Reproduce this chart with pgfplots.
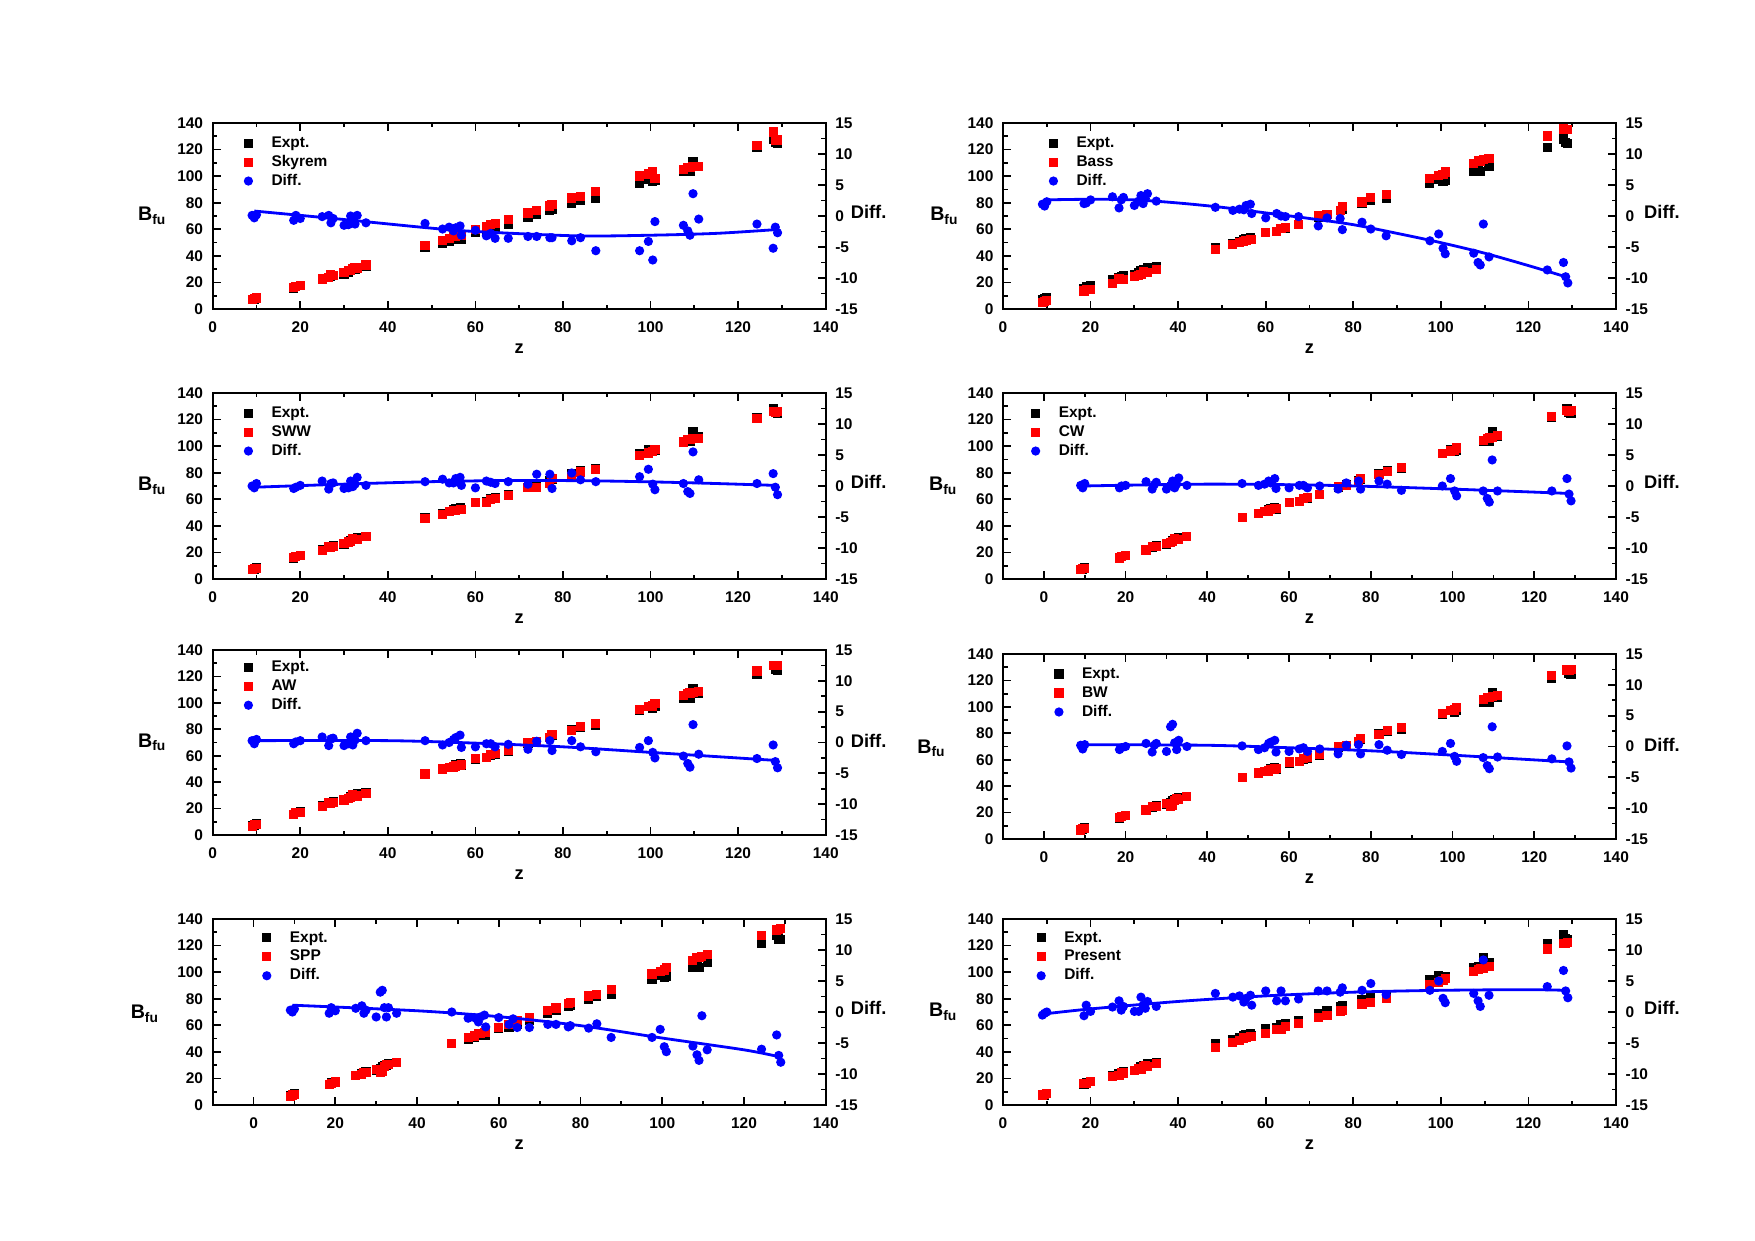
\documentclass[border=0pt]{standalone}
\usepackage{fontspec}
\setmainfont{Liberation Sans}
\usepackage{pgfplots}
\usepackage{pgfplotstable}
\pgfplotsset{compat=1.18}
\newcommand{\tf}{\fontsize{4.4}{5}\selectfont\bfseries}
\newcommand{\lf}{\fontsize{5.2}{6}\selectfont\bfseries}
\newcommand{\bl}{\fontsize{5.6}{6}\selectfont\bfseries B\textsubscript{fu}}

\pgfplotstableread{
z E Sk dSk Ba dBa SW dSW CW dCW AW dAW BW dBW SP dSP Pr dPr
9.0 7.0 6.9 0.1 5.1 1.9 7.0 0.0 6.9 0.1 6.7 0.3 6.8 0.2 6.7 0.3 7.5 -0.5
9.5 7.5 7.8 -0.3 5.9 1.6 7.8 -0.3 7.8 -0.3 7.7 -0.2 7.9 -0.4 7.5 0.0 7.7 -0.2
10.0 8.5 8.3 0.2 6.2 2.3 8.1 0.4 8.1 0.4 8.0 0.5 8.2 0.3 8.0 0.5 8.5 0.0
18.5 15.5 16.2 -0.7 13.5 2.0 15.9 -0.4 15.8 -0.3 15.7 -0.2 16.0 -0.5 15.7 -0.2 16.1 -0.6
19.0 17.0 16.9 0.1 14.9 2.1 17.2 -0.2 17.0 0.0 16.9 0.1 17.2 -0.2 16.3 0.7 15.9 1.1
20.0 17.5 17.9 -0.4 14.9 2.6 17.4 0.1 17.4 0.1 17.2 0.3 17.5 0.0 17.3 0.2 17.4 0.1
25.0 22.5 22.6 -0.1 19.4 3.1 21.7 0.8 21.8 0.7 21.6 0.9 22.0 0.5 21.9 0.6 21.7 0.8
26.5 24.0 23.9 0.1 22.7 1.3 24.5 -0.5 24.5 -0.5 24.5 -0.5 24.9 -0.9 23.0 1.0 22.2 1.8
27.0 24.5 25.6 -1.1 21.9 2.6 24.1 0.4 24.3 0.2 23.9 0.6 24.3 0.2 24.7 -0.2 24.2 0.3
27.5 25.0 25.4 -0.4 22.0 3.0 24.5 0.5 24.4 0.6 24.3 0.7 24.5 0.5 24.7 0.3 24.1 0.9
30.0 26.0 27.5 -1.5 24.3 1.7 26.4 -0.4 26.5 -0.5 26.5 -0.5 26.8 -0.8 26.8 -0.8 25.9 0.1
31.0 27.5 28.9 -1.4 25.1 2.4 27.8 -0.3 27.4 0.1 27.7 -0.2 24.3 3.2 24.3 3.2 27.4 0.1
31.5 29.0 29.0 0.0 25.7 3.3 28.2 0.8 28.2 0.8 28.1 0.9 25.4 3.6 25.5 3.5 26.6 2.4
32.0 30.0 30.7 -0.7 28.0 2.0 30.1 -0.1 30.3 -0.3 30.4 -0.4 29.4 0.6 29.3 0.7 28.9 1.1
32.5 30.0 31.3 -1.3 27.2 2.8 29.7 0.3 29.7 0.3 29.6 0.4 30.5 -0.5 30.8 -0.8 29.4 0.6
33.0 31.0 30.9 0.1 27.4 3.6 29.6 1.4 29.7 1.3 29.5 1.5 30.0 1.0 30.3 0.7 29.3 1.7
35.0 32.0 33.1 -1.1 29.6 2.4 31.9 0.1 31.9 0.1 31.7 0.3 32.0 0.0 32.2 -0.2 31.1 0.9
48.5 46.5 47.7 -1.2 45.1 1.4 45.8 0.7 46.1 0.4 46.2 0.3 46.4 0.1 46.5 0.0 43.5 3.0
52.5 49.5 51.6 -2.1 48.6 0.9 48.4 1.1 49.4 0.1 49.9 -0.4 50.0 -0.5 50.5 -1.0 47.1 2.4
54.0 51.0 52.8 -1.8 49.9 1.1 50.5 0.5 50.7 0.3 51.0 0.0 51.2 -0.2 51.9 -0.9 48.4 2.6
55.0 52.0 54.4 -2.4 51.0 1.0 51.5 0.5 51.2 0.8 51.5 0.5 51.5 0.5 53.6 -1.6 50.4 1.6
55.5 53.0 54.9 -1.9 51.3 1.7 51.8 1.2 52.5 0.5 52.2 0.8 52.3 0.7 53.8 -0.8 50.8 2.2
56.5 54.0 55.6 -1.6 52.1 1.9 52.6 1.4 52.8 1.2 52.8 1.2 53.0 1.0 54.5 -0.5 51.3 2.7
56.8 52.5 55.6 -3.1 52.1 0.4 52.4 0.1 52.9 -0.4 53.3 -0.8 53.4 -0.9 54.9 -2.4 51.4 1.1
60.0 57.5 59.8 -2.3 57.8 -0.3 57.8 -0.3 57.8 -0.3 58.2 -0.7 58.3 -0.8 58.4 -0.9 54.1 3.4
62.5 58.5 61.7 -3.2 58.1 0.4 57.7 0.8 58.4 0.1 58.7 -0.2 58.9 -0.4 60.5 -2.0 56.7 1.8
63.5 60.5 63.3 -2.8 60.5 0.0 59.9 0.6 60.4 0.1 60.7 -0.2 60.7 -0.2 61.6 -1.1 57.1 3.4
64.5 61.0 64.6 -3.6 61.1 -0.1 60.6 0.4 61.3 -0.3 61.7 -0.7 61.8 -0.8 63.5 -2.5 59.2 1.8
67.5 63.5 67.1 -3.6 63.6 -0.1 62.8 0.7 63.5 0.0 63.8 -0.3 63.9 -0.4 66.0 -2.5 61.4 2.1
72.0 69.0 72.3 -3.3 70.6 -1.6 68.7 0.3 69.5 -0.5 70.1 -1.1 70.2 -1.2 71.0 -2.0 65.6 3.4
74.0 71.0 74.3 -3.3 71.3 -0.3 69.1 1.9 70.5 0.5 70.8 0.2 70.8 0.2 73.0 -2.0 67.6 3.4
77.0 74.0 77.5 -3.5 74.4 -0.4 72.1 1.9 73.2 0.8 73.7 0.3 73.7 0.3 76.4 -2.4 70.8 3.2
77.5 75.0 78.5 -3.5 77.2 -2.2 75.4 -0.4 75.5 -0.5 76.3 -1.3 76.2 -1.2 77.2 -2.2 71.1 3.9
82.0 79.5 83.5 -4.0 80.5 -1.0 77.4 2.1 78.7 0.8 79.2 0.3 79.2 0.3 82.1 -2.6 76.0 3.5
84.0 81.5 85.0 -3.5 83.6 -2.1 80.5 1.0 81.2 0.3 82.2 -0.7 82.1 -0.6 83.4 -1.9 76.9 4.6
87.5 83.0 88.6 -5.6 86.2 -3.2 82.3 0.7 83.7 -0.7 84.5 -1.5 84.3 -1.3 87.1 -4.1 80.2 2.8
97.5 94.5 100.1 -5.6 98.5 -4.0 93.0 1.5 94.5 0.0 95.3 -0.8 95.3 -0.8 98.6 -4.1 91.0 3.5
99.5 97.5 101.6 -4.1 100.4 -2.9 94.8 2.7 96.3 1.2 97.2 0.3 97.0 0.5 100.3 -2.8 92.5 5.0
100.5 96.0 103.1 -7.1 101.2 -5.2 95.7 0.3 96.8 -0.8 97.6 -1.6 97.6 -1.6 101.6 -5.6 93.8 2.2
101.0 97.0 97.9 -0.9 103.1 -6.1 97.6 -0.6 98.6 -1.6 99.5 -2.5 99.4 -2.4 103.4 -6.4 95.5 1.5
107.5 103.5 105.0 -1.5 109.5 -6.0 103.1 0.4 104.3 -0.8 105.7 -2.2 105.3 -1.8 109.0 -5.5 100.5 3.0
108.5 104.0 106.4 -2.4 111.5 -7.5 104.9 -0.9 106.0 -2.0 107.4 -3.4 107.1 -3.1 110.9 -6.9 102.2 1.8
109.0 103.5 106.6 -3.1 111.4 -7.9 104.7 -1.2 106.1 -2.6 107.5 -4.0 107.1 -3.6 111.3 -7.8 102.6 0.9
109.7 111.0 107.4 3.6 112.3 -1.3 105.5 5.5 106.8 4.2 108.1 2.9 107.8 3.2 111.6 -0.6 102.6 8.4
111.0 107.0 107.5 -0.5 113.6 -6.6 106.0 1.0 107.8 -0.8 108.9 -1.9 108.7 -1.7 113.1 -6.1 104.3 2.7
124.3 121.5 122.8 -1.3 130.2 -8.7 121.1 0.4 122.3 -0.8 124.1 -2.6 123.5 -2.0 127.5 -6.0 117.4 4.1
128.0 128.0 133.2 -5.2 135.5 -7.5 126.0 2.0 126.8 1.2 128.4 -0.4 127.9 0.1 131.7 -3.7 121.3 6.7
128.5 125.0 126.8 -1.8 134.8 -9.8 125.2 -0.2 126.3 -1.3 128.1 -3.1 127.5 -2.5 132.0 -7.0 121.6 3.4
129.0 124.5 127.2 -2.7 135.3 -10.8 125.9 -1.4 126.9 -2.4 128.6 -4.1 128.0 -3.5 132.6 -8.1 122.2 2.3
}\data

\pgfplotsset{
  legimg/.style={legend image code/.code={\path[draw=none, fill=none] (0cm,0cm) -- (0.42cm,0cm); \draw[##1, /tikz/only marks] plot coordinates {(0.21cm,0cm)};}},
  ex/.style={only marks, mark=square*, mark size=1.1pt, black, legimg},
  md/.style={only marks, mark=square*, mark size=1.1pt, red, legimg},
  df/.style={only marks, mark=*, mark size=1.1pt, blue, legimg},
  fitl/.style={blue, line width=0.8pt, smooth, no markers},
  common/.style={scale only axis, width=6.13cm, height=1.86cm, anchor=south west,
    xmin=0, xmax=140, clip=false, tick align=inside,
    major tick length=0.08cm, minor tick length=0.045cm,
    axis line style={line width=0.6pt},
    every tick/.style={black, line width=0.5pt},
    every tick label/.append style={font=\tf},
    /pgf/number format/assume math mode=true},
  leftax/.style={common, ymin=0, ymax=140,
    xtick={0,20,...,140}, ytick={0,20,...,140},
    minor x tick num=1, minor y tick num=1, ytick pos=left, xtick pos=both,
    yticklabel style={xshift=0.8pt},
    xlabel={z}, xlabel style={font=\lf, at={(axis description cs:0.5,-0.215)}, anchor=center},
    legend style={draw=none, fill=none, font=\tf, anchor=north west, legend cell align=left,
      row sep=0pt, inner sep=0pt, outer sep=0pt,
      nodes={inner sep=0.6pt, text height=3.3pt, text depth=0.9pt}}},
  rightax/.style={common, ymin=-15, ymax=15, axis x line=none, axis y line*=right,
    ytick={-15,-10,...,15}, yticklabels={-15,-10,-5,0,5,10,15}, minor y tick num=1,
    yticklabel style={xshift=-0.8pt}}
}

\begin{document}
\begin{tikzpicture}
\path[use as bounding box] (0,0) rectangle (17.55,12.40);

% ---------- Panel 1: Skyrem
\begin{axis}[leftax, at={(2.127cm,9.31cm)}, legend style={at={(rel axis cs:0.024,0.943)}}]
\addplot[ex] table[x=z,y=E]{\data}; \addlegendentry{Expt.}
\addplot[md] table[x=z,y=Sk]{\data}; \addlegendentry{Skyrem}
\addlegendimage{df} \addlegendentry{Diff.}
\node at (rel axis cs:-0.098,0.5) {\bl};
\end{axis}
\begin{axis}[rightax, at={(2.127cm,9.31cm)}]
\addplot[df] table[x=z,y=dSk]{\data};
\addplot[fitl] coordinates {(9.5,0.8)(29,-0.5)(49,-1.9)(60,-2.5)(83,-3.2)(100,-3.1)(115,-2.8)(128.5,-2.2)};
\node[font=\lf] at (rel axis cs:1.07,0.52) {Diff.};
\end{axis}

% ---------- Panel 2: Bass
\begin{axis}[leftax, at={(10.03cm,9.31cm)}, legend style={at={(rel axis cs:0.048,0.943)}}]
\addplot[ex] table[x=z,y=E]{\data}; \addlegendentry{Expt.}
\addplot[md] table[x=z,y=Ba]{\data}; \addlegendentry{Bass}
\addlegendimage{df} \addlegendentry{Diff.}
\node at (rel axis cs:-0.095,0.5) {\bl};
\end{axis}
\begin{axis}[rightax, at={(10.03cm,9.31cm)}]
\addplot[df] table[x=z,y=dBa]{\data};
\addplot[fitl] coordinates {(9.5,2.6)(20,2.7)(30,2.6)(40,2.1)(50,1.4)(60,0.5)(70,-0.4)(80,-1.4)(90,-2.8)(100,-4.3)(110,-6.0)(120,-8.0)(128.5,-9.8)};
\node[font=\lf] at (rel axis cs:1.075,0.52) {Diff.};
\end{axis}

% ---------- Panel 3: SWW
\begin{axis}[leftax, at={(2.127cm,6.61cm)}, legend style={at={(rel axis cs:0.024,0.943)}}]
\addplot[ex] table[x=z,y=E]{\data}; \addlegendentry{Expt.}
\addplot[md] table[x=z,y=SW]{\data}; \addlegendentry{SWW}
\addlegendimage{df} \addlegendentry{Diff.}
\node at (rel axis cs:-0.098,0.5) {\bl};
\end{axis}
\begin{axis}[rightax, at={(2.127cm,6.61cm)}]
\addplot[df] table[x=z,y=dSW]{\data};
\addplot[fitl] coordinates {(9.5,-0.2)(30,0.3)(50,0.7)(70,0.9)(90,0.8)(110,0.5)(128.5,0.1)};
\node[font=\lf] at (rel axis cs:1.07,0.52) {Diff.};
\end{axis}

% ---------- Panel 4: CW
\begin{axis}[leftax, xmin=-10, at={(10.03cm,6.61cm)}, legend style={at={(rel axis cs:0.019,0.943)}}]
\addplot[ex] table[x=z,y=E]{\data}; \addlegendentry{Expt.}
\addplot[md] table[x=z,y=CW]{\data}; \addlegendentry{CW}
\addlegendimage{df} \addlegendentry{Diff.}
\node at (rel axis cs:-0.097,0.5) {\bl};
\end{axis}
\begin{axis}[rightax, xmin=-10, at={(10.03cm,6.61cm)}]
\addplot[df] table[x=z,y=dCW]{\data};
\addplot[fitl] coordinates {(9.5,0.0)(40,0.3)(70,0.1)(100,-0.5)(128.5,-1.2)};
\node[font=\lf] at (rel axis cs:1.075,0.52) {Diff.};
\end{axis}

% ---------- Panel 5: AW
\begin{axis}[leftax, height=1.85cm, at={(2.127cm,4.05cm)}, legend style={at={(rel axis cs:0.024,0.958)}}]
\addplot[ex] table[x=z,y=E]{\data}; \addlegendentry{Expt.}
\addplot[md] table[x=z,y=AW]{\data}; \addlegendentry{AW}
\addlegendimage{df} \addlegendentry{Diff.}
\node at (rel axis cs:-0.098,0.5) {\bl};
\end{axis}
\begin{axis}[rightax, height=1.85cm, at={(2.127cm,4.05cm)}]
\addplot[df] table[x=z,y=dAW]{\data};
\addplot[fitl] coordinates {(9.5,0.3)(40,0.3)(60,-0.1)(80,-0.7)(100,-1.6)(128.5,-2.9)};
\node[font=\lf] at (rel axis cs:1.07,0.51) {Diff.};
\end{axis}

% ---------- Panel 6: BW
\begin{axis}[leftax, xmin=-10, height=1.85cm, at={(10.03cm,4.01cm)}, legend style={at={(rel axis cs:0.057,0.943)}}]
\addplot[ex] table[x=z,y=E]{\data}; \addlegendentry{Expt.}
\addplot[md] table[x=z,y=BW]{\data}; \addlegendentry{BW}
\addlegendimage{df} \addlegendentry{Diff.}
\node at (rel axis cs:-0.116,0.49) {\bl};
\end{axis}
\begin{axis}[rightax, xmin=-10, height=1.85cm, at={(10.03cm,4.01cm)}]
\addplot[df] table[x=z,y=dBW]{\data};
\addplot[fitl] coordinates {(9.5,0.3)(40,0.2)(60,-0.2)(80,-0.7)(100,-1.4)(128.5,-2.5)};
\node[font=\lf] at (rel axis cs:1.075,0.51) {Diff.};
\end{axis}

% ---------- Panel 7: SPP
\begin{axis}[leftax, xmin=-10, at={(2.127cm,1.35cm)}, legend style={at={(rel axis cs:0.054,0.95)}}]
\addplot[ex] table[x=z,y=E]{\data}; \addlegendentry{Expt.}
\addplot[md] table[x=z,y=SP]{\data}; \addlegendentry{SPP}
\addlegendimage{df} \addlegendentry{Diff.}
\node at (rel axis cs:-0.11,0.49) {\bl};
\end{axis}
\begin{axis}[rightax, xmin=-10, at={(2.127cm,1.35cm)}]
\addplot[df] table[x=z,y=dSP]{\data};
\addplot[fitl] coordinates {(9.5,1.1)(40,0.2)(60,-0.75)(80,-2.2)(100,-4.2)(120,-6.1)(128.5,-7.2)};
\node[font=\lf] at (rel axis cs:1.07,0.52) {Diff.};
\end{axis}

% ---------- Panel 8: Present
\begin{axis}[leftax, at={(10.03cm,1.35cm)}, legend style={at={(rel axis cs:0.028,0.95)}}]
\addplot[ex] table[x=z,y=E]{\data}; \addlegendentry{Expt.}
\addplot[md] table[x=z,y=Pr]{\data}; \addlegendentry{Present}
\addlegendimage{df} \addlegendentry{Diff.}
\node at (rel axis cs:-0.097,0.5) {\bl};
\end{axis}
\begin{axis}[rightax, at={(10.03cm,1.35cm)}]
\addplot[df] table[x=z,y=dPr]{\data};
\addplot[fitl] coordinates {(9.5,-0.3)(20,0.5)(40,1.7)(60,2.6)(80,3.2)(100,3.5)(120,3.6)(128.5,3.5)};
\node[font=\lf] at (rel axis cs:1.075,0.52) {Diff.};
\end{axis}
\end{tikzpicture}
\end{document}
